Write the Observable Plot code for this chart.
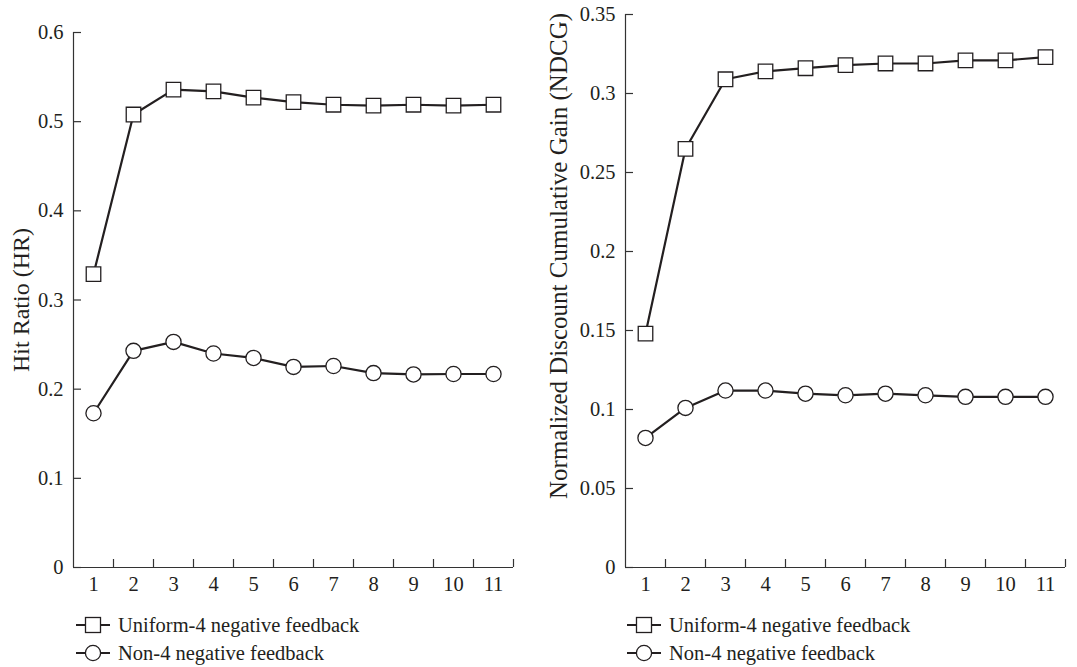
<!DOCTYPE html>
<html>
<head>
<meta charset="utf-8">
<script src="https://cdn.jsdelivr.net/npm/d3@7"></script>
<script src="https://cdn.jsdelivr.net/npm/@observablehq/plot@0.6"></script>
<style>
  html, body { margin: 0; padding: 0; background: #fff; }
  #wrap { position: relative; width: 1077px; height: 667px; overflow: hidden; font-family: "Liberation Serif", "DejaVu Serif", serif; color: #231f20; }
  .chart { position: absolute; top: 0; }
  .legend { position: absolute; font-size: 20.5px; line-height: 28px; }
  .legend .row { display: flex; align-items: center; height: 28px; }
  .legend svg { margin-right: 8px; }
</style>
</head>
<body>
<div id="wrap">
  <div id="left" class="chart" style="left:0px"></div>
  <div id="right" class="chart" style="left:537px"></div>
  <div id="legL" class="legend" style="left:76px; top:611px"></div>
  <div id="legR" class="legend" style="left:627px; top:611px"></div>
</div>
<script>
const positions = [1, 2, 3, 4, 5, 6, 7, 8, 9, 10, 11];
const seriesNames = ["Uniform-4 negative feedback", "Non-4 negative feedback"];
const hrUniform = [0.329, 0.508, 0.536, 0.534, 0.527, 0.522, 0.519, 0.518, 0.519, 0.518, 0.519];
const hrNon = [0.173, 0.243, 0.253, 0.240, 0.235, 0.225, 0.226, 0.218, 0.2165, 0.217, 0.217];
const ndcgUniform = [0.148, 0.265, 0.309, 0.314, 0.316, 0.318, 0.319, 0.319, 0.321, 0.321, 0.323];
const ndcgNon = [0.082, 0.101, 0.112, 0.112, 0.110, 0.109, 0.110, 0.109, 0.108, 0.108, 0.108];
const hrTicks = [0, 0.1, 0.2, 0.3, 0.4, 0.5, 0.6];
const ndcgTicks = [0, 0.05, 0.1, 0.15, 0.2, 0.25, 0.3, 0.35];
const xTickMarks = [1.5, 2.5, 3.5, 4.5, 5.5, 6.5, 7.5, 8.5, 9.5, 10.5, 11.5];
const yLabels = ["Hit Ratio (HR)", "Normalized Discount Cumulative Gain (NDCG)"];

const INK = "#231f20";
const FS = 20.5;
const fmt = d => String(d);

function makeChart({uniform, non, yDomain, yTicks, width, marginLeft, marginRight, marginTop, label, labelDx, labelDy, labelSize}) {
  const u = positions.map((x, i) => ({x, y: uniform[i]}));
  const n = positions.map((x, i) => ({x, y: non[i]}));
  return Plot.plot({
    width, height: 600,
    marginLeft, marginRight, marginTop, marginBottom: 33,
    style: {fontFamily: '"Liberation Serif", "DejaVu Serif", serif', fontSize: FS + "px", color: INK, background: "white", overflow: "visible"},
    x: {domain: [0.5, 11.5]},
    y: {domain: yDomain},
    marks: [
      Plot.ruleX([0.5], {stroke: "#333", strokeWidth: 1.2}),
      Plot.ruleY([0], {stroke: "#333", strokeWidth: 1.2}),
      Plot.axisX({ticks: xTickMarks, tickSize: -8, text: null, stroke: "#333", strokeWidth: 1.2, label: null}),
      Plot.axisX({ticks: positions, tickSize: 0, tickPadding: 9, tickFormat: fmt, label: null, fill: INK, fontSize: FS}),
      Plot.axisY({ticks: yTicks, tickSize: -8, text: null, stroke: "#333", strokeWidth: 1.2, label: null}),
      Plot.axisY({ticks: yTicks, tickSize: 0, tickPadding: 10, tickFormat: fmt, label: null, fill: INK, fontSize: FS}),
      Plot.text([label], {frameAnchor: "left", textAnchor: "middle", lineAnchor: "middle", rotate: -90, dx: labelDx, dy: labelDy, fill: INK, fontSize: labelSize}),
      Plot.line(u, {x: "x", y: "y", stroke: INK, strokeWidth: 2.2}),
      Plot.line(n, {x: "x", y: "y", stroke: INK, strokeWidth: 2.2}),
      Plot.dot(u, {x: "x", y: "y", symbol: "square", r: 8.2, fill: "white", stroke: INK, strokeWidth: 1.3}),
      Plot.dot(n, {x: "x", y: "y", symbol: "circle", r: 7.6, fill: "white", stroke: INK, strokeWidth: 1.3})
    ]
  });
}

document.getElementById("left").append(makeChart({
  uniform: hrUniform, non: hrNon, yDomain: [0, 0.6], yTicks: hrTicks,
  width: 537, marginLeft: 73, marginRight: 24, marginTop: 32,
  label: yLabels[0], labelDx: -52, labelDy: 0, labelSize: 24
}));
document.getElementById("right").append(makeChart({
  uniform: ndcgUniform, non: ndcgNon, yDomain: [0, 0.35], yTicks: ndcgTicks,
  width: 540, marginLeft: 88, marginRight: 12, marginTop: 14,
  label: yLabels[1], labelDx: -67, labelDy: -35, labelSize: 25
}));

function legendHTML() {
  const sq = `<svg width="34" height="20"><line x1="0" y1="10" x2="34" y2="10" stroke="${INK}" stroke-width="2.2"/><rect x="9.5" y="2.5" width="15" height="15" fill="white" stroke="${INK}" stroke-width="1.3"/></svg>`;
  const ci = `<svg width="34" height="20"><line x1="0" y1="10" x2="34" y2="10" stroke="${INK}" stroke-width="2.2"/><circle cx="17" cy="10" r="7.6" fill="white" stroke="${INK}" stroke-width="1.3"/></svg>`;
  return `<div class="row">${sq}<span>${seriesNames[0]}</span></div><div class="row">${ci}<span>${seriesNames[1]}</span></div>`;
}
document.getElementById("legL").innerHTML = legendHTML();
document.getElementById("legR").innerHTML = legendHTML();
</script>
</body>
</html>
